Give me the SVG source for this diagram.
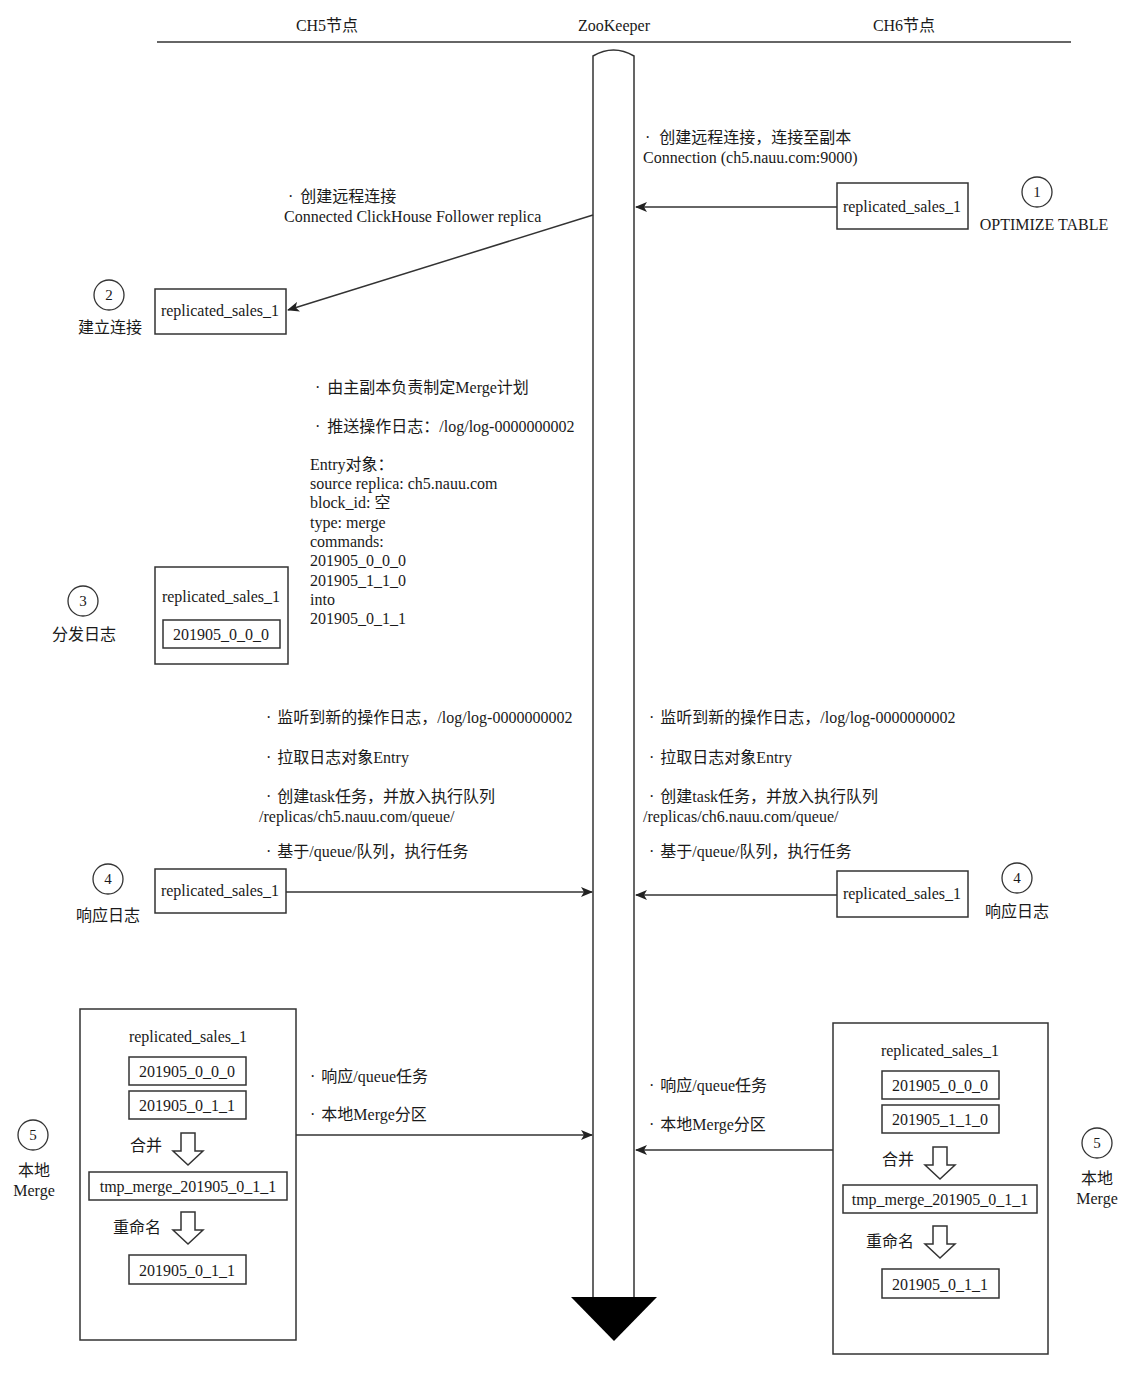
<svg xmlns="http://www.w3.org/2000/svg" width="1132" height="1388" viewBox="0 0 1132 1388">
<style>
text{font-family:"Liberation Serif","Noto Sans CJK SC",serif;font-size:16px;fill:#1a1a1a}
.c{text-anchor:middle}
.box{fill:#fff;stroke:#333;stroke-width:1.5}
.ln{fill:none;stroke:#333;stroke-width:1.5}
.circ{fill:#fff;stroke:#333;stroke-width:1.3}
.num{font-size:15px;text-anchor:middle}
.harrow{fill:#fff;stroke:#333;stroke-width:1.5;stroke-linejoin:miter}
</style>
<defs>
<marker id="ah" viewBox="0 0 12 10" refX="11" refY="5" markerWidth="12" markerHeight="10" markerUnits="userSpaceOnUse" orient="auto">
<path d="M0,0 L12,5 L0,10 L3,5 z" fill="#222"/>
</marker>
<path id="hollowArrow" d="M-7,0 L7,0 L7,18 L15,18 L0,32 L-15,18 L-7,18 z"/>
</defs>
<rect width="1132" height="1388" fill="#fff"/>

<g id="header">
<text class="c" x="327" y="31">CH5节点</text>
<text class="c" x="614" y="31">ZooKeeper</text>
<text class="c" x="904" y="31">CH6节点</text>
<line class="ln" x1="157" y1="42" x2="1071" y2="42" stroke-width="1.8"/>
</g>

<g id="zookeeper">
<path class="ln" d="M593,1298 L593,56 Q613.5,44 634,56 L634,1298"/>
<polygon points="571,1297 657,1297 614,1341" fill="#000"/>
</g>

<g id="connectors">
<line class="ln" x1="837" y1="207" x2="636" y2="207" marker-end="url(#ah)"/>
<line class="ln" x1="593" y1="215" x2="288" y2="310" marker-end="url(#ah)"/>
<line class="ln" x1="286" y1="892" x2="592" y2="892" marker-end="url(#ah)"/>
<line class="ln" x1="837" y1="895" x2="636" y2="895" marker-end="url(#ah)"/>
<line class="ln" x1="296" y1="1135" x2="592" y2="1135" marker-end="url(#ah)"/>
<line class="ln" x1="833" y1="1150" x2="636" y2="1150" marker-end="url(#ah)"/>
</g>

<g id="step1">
<text x="645" y="143">·<tspan dx="9">创建远程连接，连接至副本</tspan></text>
<text x="643" y="163">Connection (ch5.nauu.com:9000)</text>
<rect class="box" x="837" y="183" width="131" height="46"/>
<text class="c" x="902" y="212">replicated_sales_1</text>
<circle class="circ" cx="1037" cy="192" r="15"/>
<text class="num" x="1037" y="197">1</text>
<text class="c" x="1044" y="230">OPTIMIZE TABLE</text>
</g>

<g id="step2">
<text x="288" y="202">·<tspan dx="7">创建远程连接</tspan></text>
<text x="284" y="222">Connected ClickHouse Follower replica</text>
<rect class="box" x="155" y="289" width="131" height="45"/>
<text class="c" x="220" y="316">replicated_sales_1</text>
<circle class="circ" cx="109" cy="295" r="15"/>
<text class="num" x="109" y="300">2</text>
<text class="c" x="110" y="333">建立连接</text>
</g>

<g id="step3">
<text x="315" y="393">·<tspan dx="7">由主副本负责制定Merge计划</tspan></text>
<text x="315" y="432">·<tspan dx="7">推送操作日志：/log/log-0000000002</tspan></text>
<text x="310" y="470">Entry对象：</text>
<text x="310" y="489">source replica: ch5.nauu.com</text>
<text x="310" y="508">block_id: 空</text>
<text x="310" y="528">type: merge</text>
<text x="310" y="547">commands:</text>
<text x="310" y="566">201905_0_0_0</text>
<text x="310" y="586">201905_1_1_0</text>
<text x="310" y="605">into</text>
<text x="310" y="624">201905_0_1_1</text>
<rect class="box" x="155" y="567" width="133" height="97"/>
<text class="c" x="221" y="602">replicated_sales_1</text>
<rect class="box" x="163" y="620" width="117" height="28"/>
<text class="c" x="221" y="640">201905_0_0_0</text>
<circle class="circ" cx="83" cy="601" r="15"/>
<text class="num" x="83" y="606">3</text>
<text class="c" x="84" y="640">分发日志</text>
</g>

<g id="step4-ch5">
<text x="266" y="723">·<tspan dx="6">监听到新的操作日志，/log/log-0000000002</tspan></text>
<text x="266" y="763">·<tspan dx="6">拉取日志对象Entry</tspan></text>
<text x="266" y="802">·<tspan dx="6">创建task任务，并放入执行队列</tspan></text>
<text x="259" y="822">/replicas/ch5.nauu.com/queue/</text>
<text x="266" y="857">·<tspan dx="6">基于/queue/队列，执行任务</tspan></text>
<rect class="box" x="155" y="869" width="131" height="44"/>
<text class="c" x="220" y="896">replicated_sales_1</text>
<circle class="circ" cx="108" cy="879" r="15"/>
<text class="num" x="108" y="884">4</text>
<text class="c" x="108" y="921">响应日志</text>
</g>

<g id="step4-ch6">
<text x="649" y="723">·<tspan dx="6">监听到新的操作日志，/log/log-0000000002</tspan></text>
<text x="649" y="763">·<tspan dx="6">拉取日志对象Entry</tspan></text>
<text x="649" y="802">·<tspan dx="6">创建task任务，并放入执行队列</tspan></text>
<text x="643" y="822">/replicas/ch6.nauu.com/queue/</text>
<text x="649" y="857">·<tspan dx="6">基于/queue/队列，执行任务</tspan></text>
<rect class="box" x="837" y="871" width="131" height="46"/>
<text class="c" x="902" y="899">replicated_sales_1</text>
<circle class="circ" cx="1017" cy="878" r="15"/>
<text class="num" x="1017" y="883">4</text>
<text class="c" x="1017" y="917">响应日志</text>
</g>

<g id="step5-ch5">
<text x="310" y="1082">·<tspan dx="6">响应/queue任务</tspan></text>
<text x="310" y="1120">·<tspan dx="6">本地Merge分区</tspan></text>
<rect class="box" x="80" y="1009" width="216" height="331"/>
<text class="c" x="188" y="1042">replicated_sales_1</text>
<rect class="box" x="129" y="1057" width="117" height="28"/>
<text class="c" x="187" y="1077">201905_0_0_0</text>
<rect class="box" x="129" y="1091" width="117" height="28"/>
<text class="c" x="187" y="1111">201905_0_1_1</text>
<text class="c" x="146" y="1151">合并</text>
<use href="#hollowArrow" class="harrow" x="188" y="1133"/>
<rect class="box" x="89" y="1172" width="198" height="28"/>
<text class="c" x="188" y="1192">tmp_merge_201905_0_1_1</text>
<text class="c" x="137" y="1233">重命名</text>
<use href="#hollowArrow" class="harrow" x="188" y="1212"/>
<rect class="box" x="129" y="1255" width="117" height="29"/>
<text class="c" x="187" y="1276">201905_0_1_1</text>
<circle class="circ" cx="33" cy="1135" r="15"/>
<text class="num" x="33" y="1140">5</text>
<text class="c" x="34" y="1176">本地</text>
<text class="c" x="34" y="1196">Merge</text>
</g>

<g id="step5-ch6">
<text x="649" y="1091">·<tspan dx="6">响应/queue任务</tspan></text>
<text x="649" y="1130">·<tspan dx="6">本地Merge分区</tspan></text>
<rect class="box" x="833" y="1023" width="215" height="331"/>
<text class="c" x="940" y="1056">replicated_sales_1</text>
<rect class="box" x="882" y="1071" width="117" height="28"/>
<text class="c" x="940" y="1091">201905_0_0_0</text>
<rect class="box" x="882" y="1105" width="117" height="28"/>
<text class="c" x="940" y="1125">201905_1_1_0</text>
<text class="c" x="898" y="1165">合并</text>
<use href="#hollowArrow" class="harrow" x="940" y="1147"/>
<rect class="box" x="843" y="1185" width="194" height="28"/>
<text class="c" x="940" y="1205">tmp_merge_201905_0_1_1</text>
<text class="c" x="890" y="1247">重命名</text>
<use href="#hollowArrow" class="harrow" x="940" y="1226"/>
<rect class="box" x="882" y="1269" width="117" height="29"/>
<text class="c" x="940" y="1290">201905_0_1_1</text>
<circle class="circ" cx="1097" cy="1143" r="15"/>
<text class="num" x="1097" y="1148">5</text>
<text class="c" x="1097" y="1184">本地</text>
<text class="c" x="1097" y="1204">Merge</text>
</g>
</svg>
